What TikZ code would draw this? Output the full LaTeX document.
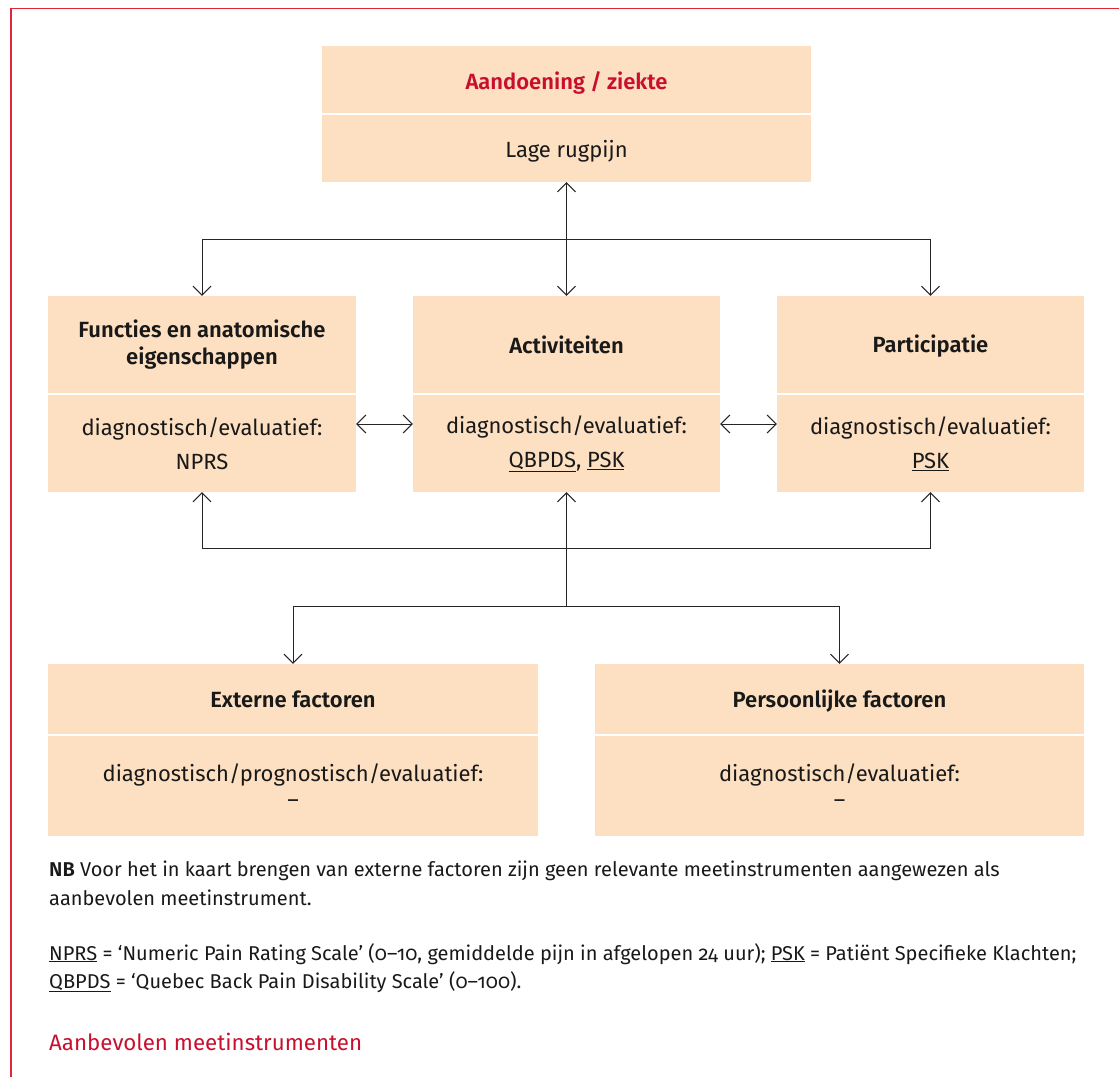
\documentclass[tikz,border=0pt]{standalone}
\usepackage{fontspec}
\setmainfont{Fira Sans}[Numbers=OldStyle, BoldFont={* SemiBold}]
\usetikzlibrary{arrows.meta}

\definecolor{perzik}{RGB}{253,224,194}
\definecolor{kaderrood}{RGB}{220,40,58}
\definecolor{koprood}{RGB}{200,16,46}

\newcommand{\afk}[1]{\underline{#1}}

\begin{document}
\begin{tikzpicture}[x=1pt, y=-1pt,
>={Straight Barb[length=9pt, width=18pt]},
vak/.style = {fill=perzik, inner sep=0pt, align=center, text=black!90, font=\fontsize{22}{34}\selectfont},
kop/.style = {vak, font=\fontsize{22}{27}\selectfont\bfseries},
omlaag/.style = {execute at begin node={\rule{0pt}{#1}}},
lijn/.style = {line width=1pt, draw=black!85},
noot/.style = {anchor=base west, inner sep=0pt, text=black!90, font=\fontsize{20}{28}\selectfont},
]
\useasboundingbox (0,0) rectangle (1119,1077);

% Kader
\draw[kaderrood, line width=1.5pt] (11,1077) -- (11,8.5) -- (1119,8.5);

% Aandoening
\node[kop, omlaag=24pt, text=koprood, minimum width=489pt, minimum height=67pt] (ziekte) at (566.5,79.5) {Aandoening / ziekte};
\node[vak, omlaag=22.5pt, minimum width=489pt, minimum height=67pt] (rugpijn) at (566.5,148.5) {Lage rugpijn};

% Functies, activiteiten, participatie
\node[kop, minimum width=308pt, minimum height=97pt] (functies) at (202,344.5) {Functies en anatomische\\eigenschappen};
\node[vak, omlaag=33pt, minimum width=308pt, minimum height=97pt] (functiesmeting) at (202,443.5) {diagnostisch/evaluatief:\\NPRS};
\node[kop, minimum width=307pt, minimum height=97pt] (activiteiten) at (566.5,344.5) {Activiteiten};
\node[vak, omlaag=33pt, minimum width=307pt, minimum height=97pt] (activiteitenmeting) at (566.5,443.5) {diagnostisch/evaluatief:\\\afk{QBPDS}, \afk{PSK}};
\node[kop, omlaag=20pt, minimum width=307pt, minimum height=97pt] (participatie) at (930.5,344.5) {Participatie};
\node[vak, omlaag=33pt, minimum width=307pt, minimum height=97pt] (participatiemeting) at (930.5,443.5) {diagnostisch/evaluatief:\\\afk{PSK}};

% Externe en persoonlijke factoren
\node[kop, minimum width=490pt, minimum height=70pt] (extern) at (293,699) {Externe factoren};
\node[vak, omlaag=21pt, minimum width=490pt, minimum height=100pt, font=\fontsize{22}{26}\selectfont] (externmeting) at (293,786) {diagnostisch/prognostisch/evaluatief:\\–};
\node[kop, omlaag=21pt, minimum width=489pt, minimum height=70pt] (persoonlijk) at (839.5,699) {Persoonlijke factoren};
\node[vak, omlaag=21pt, minimum width=489pt, minimum height=100pt, font=\fontsize{22}{26}\selectfont] (persoonlijkmeting) at (839.5,786) {diagnostisch/evaluatief:\\–};

% Verbindingen
\coordinate (boven) at (566.5,239);
\coordinate (onder) at (566.5,548);
\coordinate (splits) at (566.5,606);
\draw[lijn, <->] (rugpijn.south) -- (activiteiten.north);
\draw[lijn, ->] (boven) -| (functies.north);
\draw[lijn, ->] (boven) -| (participatie.north);
\draw[lijn, <->] ([yshift=19.5pt]functiesmeting.east) -- ([yshift=19.5pt]activiteitenmeting.west);
\draw[lijn, <->] ([yshift=19.5pt]activiteitenmeting.east) -- ([yshift=19.5pt]participatiemeting.west);
\draw[lijn, ->] (onder) -| (functiesmeting.south);
\draw[lijn, ->] (onder) -| (participatiemeting.south);
\draw[lijn, <-] (activiteitenmeting.south) -- (splits);
\draw[lijn, ->] (splits) -| (extern.north);
\draw[lijn, ->] (splits) -| (persoonlijk.north);

% Noten
\node[noot] (nb) at (49,876.5) {\textbf{NB} Voor het in kaart brengen van externe factoren zijn geen relevante meetinstrumenten aangewezen als};
\node[noot] (nbvervolg) at (49,905) {aanbevolen meetinstrument.};
\node[noot] (afkortingen) at (49,960) {\afk{NPRS} = ‘Numeric Pain Rating Scale’ (0–10, gemiddelde pijn in afgelopen 24 uur); \afk{PSK} = Patiënt Specifieke Klachten;};
\node[noot] (afkvervolg) at (49,988) {\afk{QBPDS} = ‘Quebec Back Pain Disability Scale’ (0–100).};
\node[noot, text=koprood, font=\fontsize{22.3}{28}\selectfont] (aanbevolen) at (49,1050) {Aanbevolen meetinstrumenten};

\end{tikzpicture}
\end{document}
